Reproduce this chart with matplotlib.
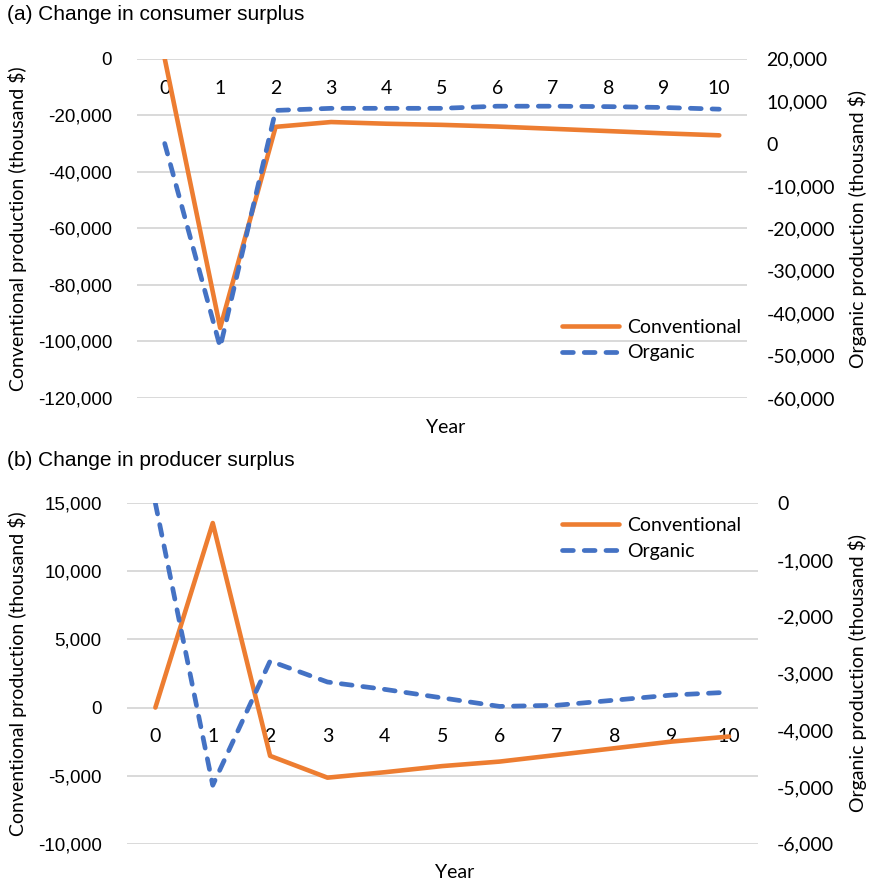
import numpy as np
import matplotlib.pyplot as plt
from matplotlib.ticker import FuncFormatter

years = list(range(11))

# (a) change in consumer surplus, thousand $
cs_conv = [0, -95200, -24100, -22400, -23000, -23400, -24000, -24800, -25600, -26400, -27100]
cs_org = [0, -48000, 7800, 8300, 8300, 8300, 8800, 8800, 8700, 8500, 8100]

# (b) change in producer surplus, thousand $
ps_conv = [0, 13550, -3550, -5150, -4750, -4300, -3970, -3480, -2990, -2500, -2130]
ps_org = [0, -4970, -2780, -3150, -3280, -3430, -3580, -3560, -3470, -3380, -3330]

W, H = 871, 886
fig = plt.figure(figsize=(W / 100, H / 100), dpi=100)

ORANGE = '#ED7D31'
BLUE = '#4472C4'
ARIAL = 'Liberation Sans'
CALIBRI = 'Lato'
fmt = FuncFormatter(lambda v, p: f'{v:,.0f}')


def rect(l, t, r, b):
    return [l / W, 1 - b / H, (r - l) / W, (b - t) / H]


def fx(x):
    return x / W


def fy(y):
    return 1 - y / H


def panel(box, conv, org, lim1, step1, lim2, step2):
    ax = fig.add_axes(rect(*box))
    ax2 = ax.twinx()
    ax.set_xlim(-0.5, 10.5)
    ax.set_ylim(*lim1)
    ax.set_yticks(np.arange(lim1[0], lim1[1] + 1, step1))
    ax2.set_ylim(*lim2)
    ax2.set_yticks(np.arange(lim2[0], lim2[1] + 1, step2))
    ax.yaxis.set_major_formatter(fmt)
    ax2.yaxis.set_major_formatter(fmt)
    ax.grid(axis='y', color='#d9d9d9', lw=1.4)
    ax.set_axisbelow(True)
    for a in (ax, ax2):
        for s in a.spines.values():
            s.set_visible(False)
    # category labels sit next to the zero line, as in the original
    ax.spines['bottom'].set_position(('data', 0))
    ax.set_xticks(years)
    ax.tick_params(axis='x', length=0, pad=15, labelsize=14, labelfontfamily=CALIBRI)
    ax.tick_params(axis='y', length=0, pad=18, labelsize=13.5, labelfontfamily=ARIAL)
    ax2.tick_params(axis='y', length=0, pad=14, labelsize=14, labelfontfamily=CALIBRI)
    l1, = ax.plot(years, conv, color=ORANGE, lw=3.3,
                  solid_capstyle='round', solid_joinstyle='round', label='Conventional')
    l2, = ax2.plot(years, org, color=BLUE, lw=3.4, ls=(0, (2.3, 2.3)),
                   dash_capstyle='round', dash_joinstyle='round', label='Organic')
    return ax, ax2, [l1, l2]


def add_legend(ax2, lines, ycenter):
    ax2.legend(lines, [l.get_label() for l in lines], loc='center left',
               bbox_to_anchor=(fx(562), fy(ycenter)), bbox_transform=fig.transFigure,
               frameon=False, borderpad=0, borderaxespad=0, handlelength=2.95,
               handletextpad=0.4, labelspacing=0.45,
               prop={'family': CALIBRI, 'size': 14})


# panel (a)
ax, ax2, lines = panel((137, 58.7, 747, 398), cs_conv, cs_org,
                       (-120000, 0), 20000, (-60000, 20000), 10000)
add_legend(ax2, lines, 340)
fig.text(fx(7), fy(15), '(a) Change in consumer surplus', family=ARIAL,
         fontsize=15, ha='left', va='center')
fig.text(fx(446), fy(428), 'Year', family=CALIBRI, fontsize=14, ha='center', va='center')
fig.text(fx(18), fy(228.5), 'Conventional production (thousand $)', family=CALIBRI,
         fontsize=14, rotation=90, ha='center', va='center')
fig.text(fx(857), fy(228.5), 'Organic production (thousand $)', family=CALIBRI,
         fontsize=14, rotation=90, ha='center', va='center')

# panel (b)
ax, ax2, lines = panel((126.7, 503.3, 757.7, 843.7), ps_conv, ps_org,
                       (-10000, 15000), 5000, (-6000, 0), 1000)
add_legend(ax2, lines, 538.3)
fig.text(fx(7), fy(460.7), '(b) Change in producer surplus', family=ARIAL,
         fontsize=15, ha='left', va='center')
fig.text(fx(455), fy(872), 'Year', family=CALIBRI, fontsize=14, ha='center', va='center')
fig.text(fx(18), fy(674), 'Conventional production (thousand $)', family=CALIBRI,
         fontsize=14, rotation=90, ha='center', va='center')
fig.text(fx(857), fy(673), 'Organic production (thousand $)', family=CALIBRI,
         fontsize=14, rotation=90, ha='center', va='center')

fig.savefig('out.png', dpi=100)
